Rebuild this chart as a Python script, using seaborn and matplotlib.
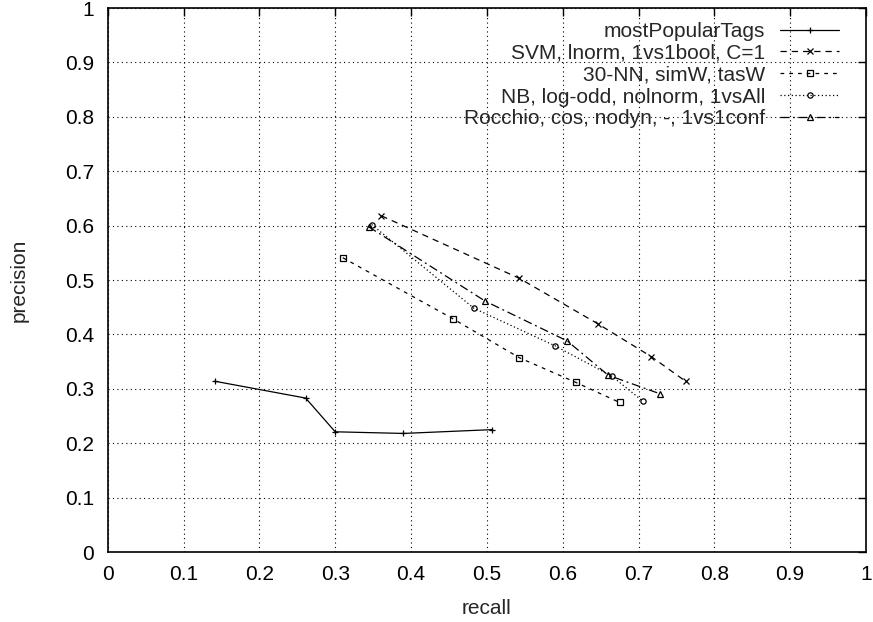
import numpy as np
import pandas as pd
import matplotlib
matplotlib.use("Agg")
import matplotlib.pyplot as plt
import seaborn as sns
from matplotlib.ticker import FormatStrFormatter, MultipleLocator

# values
labels = [
    "mostPopularTags",
    "SVM, lnorm, 1vs1bool, C=1",
    "30-NN, simW, tasW",
    "NB, log-odd, nolnorm, 1vsAll",
    "Rocchio, cos, nodyn, -, 1vs1conf",
]
recall_popular = [0.141, 0.261, 0.300, 0.390, 0.507]
precision_popular = [0.314, 0.283, 0.221, 0.218, 0.225]
recall_svm = [0.361, 0.543, 0.647, 0.717, 0.762]
precision_svm = [0.618, 0.503, 0.419, 0.359, 0.314]
recall_knn = [0.310, 0.455, 0.543, 0.617, 0.675]
precision_knn = [0.541, 0.429, 0.357, 0.312, 0.275]
recall_nb = [0.348, 0.483, 0.590, 0.665, 0.706]
precision_nb = [0.602, 0.448, 0.379, 0.323, 0.277]
recall_rocchio = [0.344, 0.498, 0.606, 0.660, 0.728]
precision_rocchio = [0.598, 0.461, 0.388, 0.325, 0.291]

recalls = [recall_popular, recall_svm, recall_knn, recall_nb, recall_rocchio]
precisions = [precision_popular, precision_svm, precision_knn, precision_nb, precision_rocchio]

rows = []
for lab, rs, ps in zip(labels, recalls, precisions):
    for r, p in zip(rs, ps):
        rows.append({"method": lab, "recall": r, "precision": p})
df = pd.DataFrame(rows)

sns.set_style("white")
plt.rcParams["font.family"] = ["Liberation Sans", "DejaVu Sans"]

# gnuplot-like line types
styles = [
    dict(linestyle="-", marker="+", ms=5, mfc="none"),
    dict(linestyle=(0, (5, 4)), marker="x", ms=4, mfc="none"),
    dict(linestyle=(0, (3, 4)), marker="s", ms=3.8, mfc="none"),
    dict(linestyle=(0, (1, 2)), marker="o", ms=3.8, mfc="none"),
    dict(linestyle=(0, (7, 3, 1.5, 3)), marker="^", ms=4, mfc="none"),
]

fs = 15
fig = plt.figure(figsize=(8.73, 6.22), dpi=100)
ax = fig.add_axes([0.1234, 0.1125, 0.8686, 0.8746])

for lab, st in zip(labels, styles):
    sub = df[df["method"] == lab]
    sns.lineplot(data=sub, x="recall", y="precision", ax=ax, sort=False,
                 color="black", lw=0.9, mec="black", mew=0.9, label=lab,
                 estimator=None, **st)

ax.set_xlim(0, 1)
ax.set_ylim(0, 1)
ax.xaxis.set_major_locator(MultipleLocator(0.1))
ax.yaxis.set_major_locator(MultipleLocator(0.1))
ax.xaxis.set_major_formatter(FormatStrFormatter("%g"))
ax.yaxis.set_major_formatter(FormatStrFormatter("%g"))
ax.tick_params(direction="in", length=6, width=1, top=True, right=True,
               labelsize=fs, colors="black")
ax.tick_params(axis="x", pad=9.5)
ax.tick_params(axis="y", pad=10)
ax.grid(True, color="black", linestyle=(0, (1, 3)), linewidth=0.8)
for sp in ax.spines.values():
    sp.set_color("black")
    sp.set_linewidth(1.2)

ax.set_xlabel("recall", fontsize=fs, labelpad=11)
ax.set_ylabel("precision", fontsize=fs, labelpad=26)

leg = ax.legend(loc="upper right", bbox_to_anchor=(0.975, 0.99), frameon=False,
                markerfirst=False, fontsize=fs, handlelength=2.8,
                handletextpad=0.72, labelspacing=0.14, borderaxespad=0)

fig.savefig("out.png", dpi=100)
